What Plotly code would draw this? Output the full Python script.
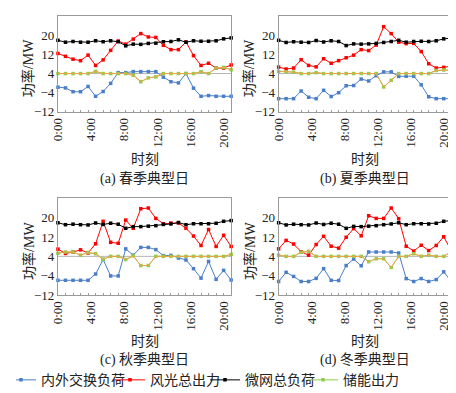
import plotly.graph_objects as go

W, H = 456, 393
FONT = "Liberation Serif, Noto Sans CJK SC, serif"

# ---------------- data ----------------
idx = list(range(24))
x_tick_labels = ["0:00", "4:00", "8:00", "12:00", "16:00", "20:00"]
x_tick_pos = [0, 4.4, 8.8, 13.2, 17.6, 22.0]
y_ticks = [-12, -4, 4, 12, 20]

series_names = ["内外交换负荷", "风光总出力", "微网总负荷", "储能出力"]
captions = ["(a) 春季典型日", "(b) 夏季典型日", "(c) 秋季典型日", "(d) 冬季典型日"]

# (a) spring
exch_a = [-1.7, -2.0, -3.6, -3.6, -1.4, -5.5, -3.5, -0.1, 4.4, 4.4, 4.8, 4.8,
          4.8, 4.8, 2.5, 0.6, 0.1, 4.0, -2.1, -5.5, -5.2, -5.5, -5.5, -5.5]
res_a = [12.4, 11.2, 10.0, 9.4, 11.7, 7.4, 9.7, 13.7, 17.6, 16.3, 18.4, 20.7,
         19.3, 19.1, 15.8, 14.0, 14.0, 17.2, 11.5, 7.4, 8.3, 6.3, 6.3, 7.6]
load_a = [17.9, 17.1, 17.4, 17.1, 17.1, 17.7, 17.3, 17.7, 17.3, 15.6, 16.3, 16.2,
          16.6, 16.7, 17.3, 17.4, 18.1, 17.1, 17.7, 17.5, 17.5, 17.7, 18.5, 18.9]
stor_a = [4.0, 4.0, 4.0, 4.0, 4.0, 4.9, 4.0, 4.0, 4.0, 4.0, 3.3, 0.6,
          2.2, 2.6, 4.0, 4.0, 4.0, 4.0, 4.0, 4.8, 4.0, 6.3, 6.6, 5.6]

# (b) summer
exch_b = [-6.5, -6.5, -6.5, -3.3, -5.9, -6.5, -3.0, -5.6, -4.0, -1.1, -1.0, 1.7,
          0.9, 3.1, 4.7, 4.7, 2.8, 2.9, 2.9, -0.7, -5.7, -6.5, -6.5, -6.5]
res_b = [6.7, 5.9, 6.3, 9.8, 7.4, 6.8, 10.2, 8.3, 9.4, 10.6, 11.7, 14.0,
         13.6, 15.9, 23.6, 20.7, 17.1, 16.5, 16.6, 13.2, 8.1, 6.3, 6.6, 7.0]
load_b = [17.9, 17.0, 17.3, 17.1, 17.0, 17.8, 17.2, 17.7, 17.4, 15.7, 16.4, 16.3,
          16.4, 16.6, 17.0, 17.4, 17.9, 17.1, 17.4, 17.5, 17.4, 17.7, 18.5, 18.8]
stor_b = [4.9, 4.7, 4.6, 4.0, 4.0, 4.4, 4.0, 4.0, 4.0, 4.0, 4.0, 4.0,
          4.0, 4.0, -1.6, 1.2, 4.0, 4.0, 4.0, 4.0, 4.0, 5.3, 5.5, 5.5]

# (c) autumn
exch_c = [-5.9, -5.9, -5.9, -5.9, -5.9, -3.3, 2.7, -4.1, -4.1, 7.1, 4.5, 7.7,
          7.7, 6.8, 4.3, 4.4, 3.3, 2.5, -1.1, -5.0, 1.9, -5.5, -1.8, -5.8]
res_c = [7.0, 5.2, 5.8, 6.7, 5.4, 9.2, 18.5, 9.8, 9.4, 19.0, 15.6, 23.7,
         24.0, 19.7, 17.5, 17.8, 17.8, 15.6, 12.4, 8.5, 15.1, 8.1, 12.7, 8.1]
load_c = [17.9, 17.1, 17.3, 17.1, 17.0, 17.8, 17.2, 17.7, 17.3, 15.6, 16.3, 16.3,
          16.5, 16.7, 17.2, 17.4, 18.0, 17.1, 17.5, 17.5, 17.5, 17.7, 18.5, 18.8]
stor_c = [5.3, 5.8, 5.8, 4.5, 5.6, 5.1, 2.8, 4.0, 4.0, 2.7, 4.2, 0.2,
          0.2, 4.0, 4.0, 4.0, 4.0, 4.0, 4.0, 4.0, 4.0, 4.0, 4.0, 4.8]

# (d) winter
exch_d = [-6.4, -2.6, -4.3, -6.4, -6.4, -5.1, -1.1, -5.9, -6.0, 0.2, 2.9, 0.1,
          5.8, 5.8, 5.8, 5.8, 5.4, -5.2, -6.4, -5.2, -6.4, -5.6, -2.4, -6.4]
res_d = [7.1, 10.6, 9.1, 5.9, 4.5, 8.9, 12.3, 8.2, 7.4, 11.9, 15.5, 12.5,
         20.8, 19.7, 19.7, 24.0, 19.6, 8.2, 6.2, 8.6, 6.4, 8.5, 12.1, 6.4]
load_d = [17.9, 17.0, 17.3, 17.1, 17.0, 17.8, 17.2, 17.7, 17.3, 15.6, 16.4, 16.3,
          16.5, 16.7, 17.1, 17.4, 17.9, 17.1, 17.5, 17.5, 17.4, 17.7, 18.5, 18.8]
stor_d = [4.5, 4.0, 4.0, 5.7, 6.1, 4.0, 4.0, 4.0, 4.0, 4.0, 4.0, 4.0,
          1.8, 3.0, 3.0, -0.6, 4.0, 4.0, 5.1, 4.0, 4.5, 4.0, 4.0, 6.0]

panels = [
    (exch_a, res_a, load_a, stor_a),
    (exch_b, res_b, load_b, stor_b),
    (exch_c, res_c, load_c, stor_c),
    (exch_d, res_d, load_d, stor_d),
]

# ---------------- style ----------------
colors = ["#4a7ec8", "#ff0000", "#000000", "#8fce4a"]
orange = "#f5a04a"
axis_gray = "#9a9a9a"
legend_widths = [79, 65, 68, 58]

x_domains = [[42.7 / W, 219 / W], [267.3 / W, 443 / W]]
y_domains = [[1 - 106 / H, 1 - 8.3 / H], [1 - 293 / H, 1 - 194.3 / H]]

fig = go.Figure()
layout = {}
shapes = []
annotations = []

for p, data in enumerate(panels):
    r, c = divmod(p, 2)
    n = p + 1
    xa = "x" if n == 1 else f"x{n}"
    ya = "y" if n == 1 else f"y{n}"

    for k, vals in enumerate(data):
        fig.add_trace(go.Scatter(
            x=idx, y=vals, mode="lines+markers", name=series_names[k],
            line=dict(color=colors[k], width=1),
            marker=dict(color=colors[k], size=3.5, symbol="square"),
            xaxis=xa, yaxis=ya, showlegend=(p == 0), legendrank=k + 1,
            legendwidth=legend_widths[k], cliponaxis=False,
        ))
    fig.add_trace(go.Scatter(
        x=idx, y=data[3], mode="lines", line=dict(color=orange, width=1),
        xaxis=xa, yaxis=ya, showlegend=False, hoverinfo="skip",
        cliponaxis=False,
    ))

    layout[f"xaxis{'' if n == 1 else n}"] = dict(
        domain=x_domains[c], anchor=ya, range=[0, 23],
        tickmode="array", tickvals=x_tick_pos, ticktext=x_tick_labels,
        tickangle=-90, ticks="", showgrid=False, zeroline=False,
        showline=True, mirror=True, linecolor=axis_gray, linewidth=1,
        tickfont=dict(family=FONT, size=13, color="#222"),
        minor=dict(ticks="inside", tickmode="linear", tick0=0, dtick=1,
                   ticklen=2, tickcolor=axis_gray, showgrid=False),
    )
    layout[f"yaxis{'' if n == 1 else n}"] = dict(
        domain=y_domains[r], anchor=xa, range=[-12, 28],
        tickmode="array", tickvals=y_ticks, ticks="",
        showgrid=False, zeroline=False,
        showline=True, mirror=True, linecolor=axis_gray, linewidth=1,
        tickfont=dict(family=FONT, size=13, color="#222"),
    )
    shapes.append(dict(type="line", xref=f"{xa} domain", yref=ya,
                       x0=0, x1=1, y0=4, y1=4,
                       line=dict(color="#b4b4b4", width=1), layer="below"))

    xc = (x_domains[c][0] + x_domains[c][1]) / 2
    t_y = [155, 340][r]
    cap_y = [175, 359][r]
    annotations.append(dict(text="时刻", x=xc, y=1 - t_y / H, xref="paper",
                            yref="paper", showarrow=False,
                            font=dict(family=FONT, size=14, color="#222"),
                            xanchor="center", yanchor="middle"))
    annotations.append(dict(text=captions[p], x=xc, y=1 - cap_y / H,
                            xref="paper", yref="paper", showarrow=False,
                            font=dict(family=FONT, size=14, color="#222"),
                            xanchor="center", yanchor="middle"))
    yt_x = [12.5, 237.5][c]
    yc = (y_domains[r][0] + y_domains[r][1]) / 2 - 4 / H
    annotations.append(dict(text="功率/MW", x=yt_x / W, y=yc, xref="paper",
                            yref="paper", showarrow=False, textangle=-90,
                            font=dict(family=FONT, size=14, color="#222"),
                            xanchor="center", yanchor="middle"))

fig.update_layout(
    **layout,
    width=W, height=H,
    margin=dict(l=0, r=0, t=0, b=0),
    paper_bgcolor="white", plot_bgcolor="white",
    shapes=shapes, annotations=annotations,
    showlegend=True,
    legend=dict(orientation="h", x=0.0, xanchor="left", y=1 - 380 / H,
                yanchor="middle", font=dict(family=FONT, size=14, color="#222"),
                bgcolor="rgba(0,0,0,0)", itemwidth=30, tracegroupgap=0,
                indentation=-15),
    font=dict(family=FONT),
)

fig.write_html("out.html")
